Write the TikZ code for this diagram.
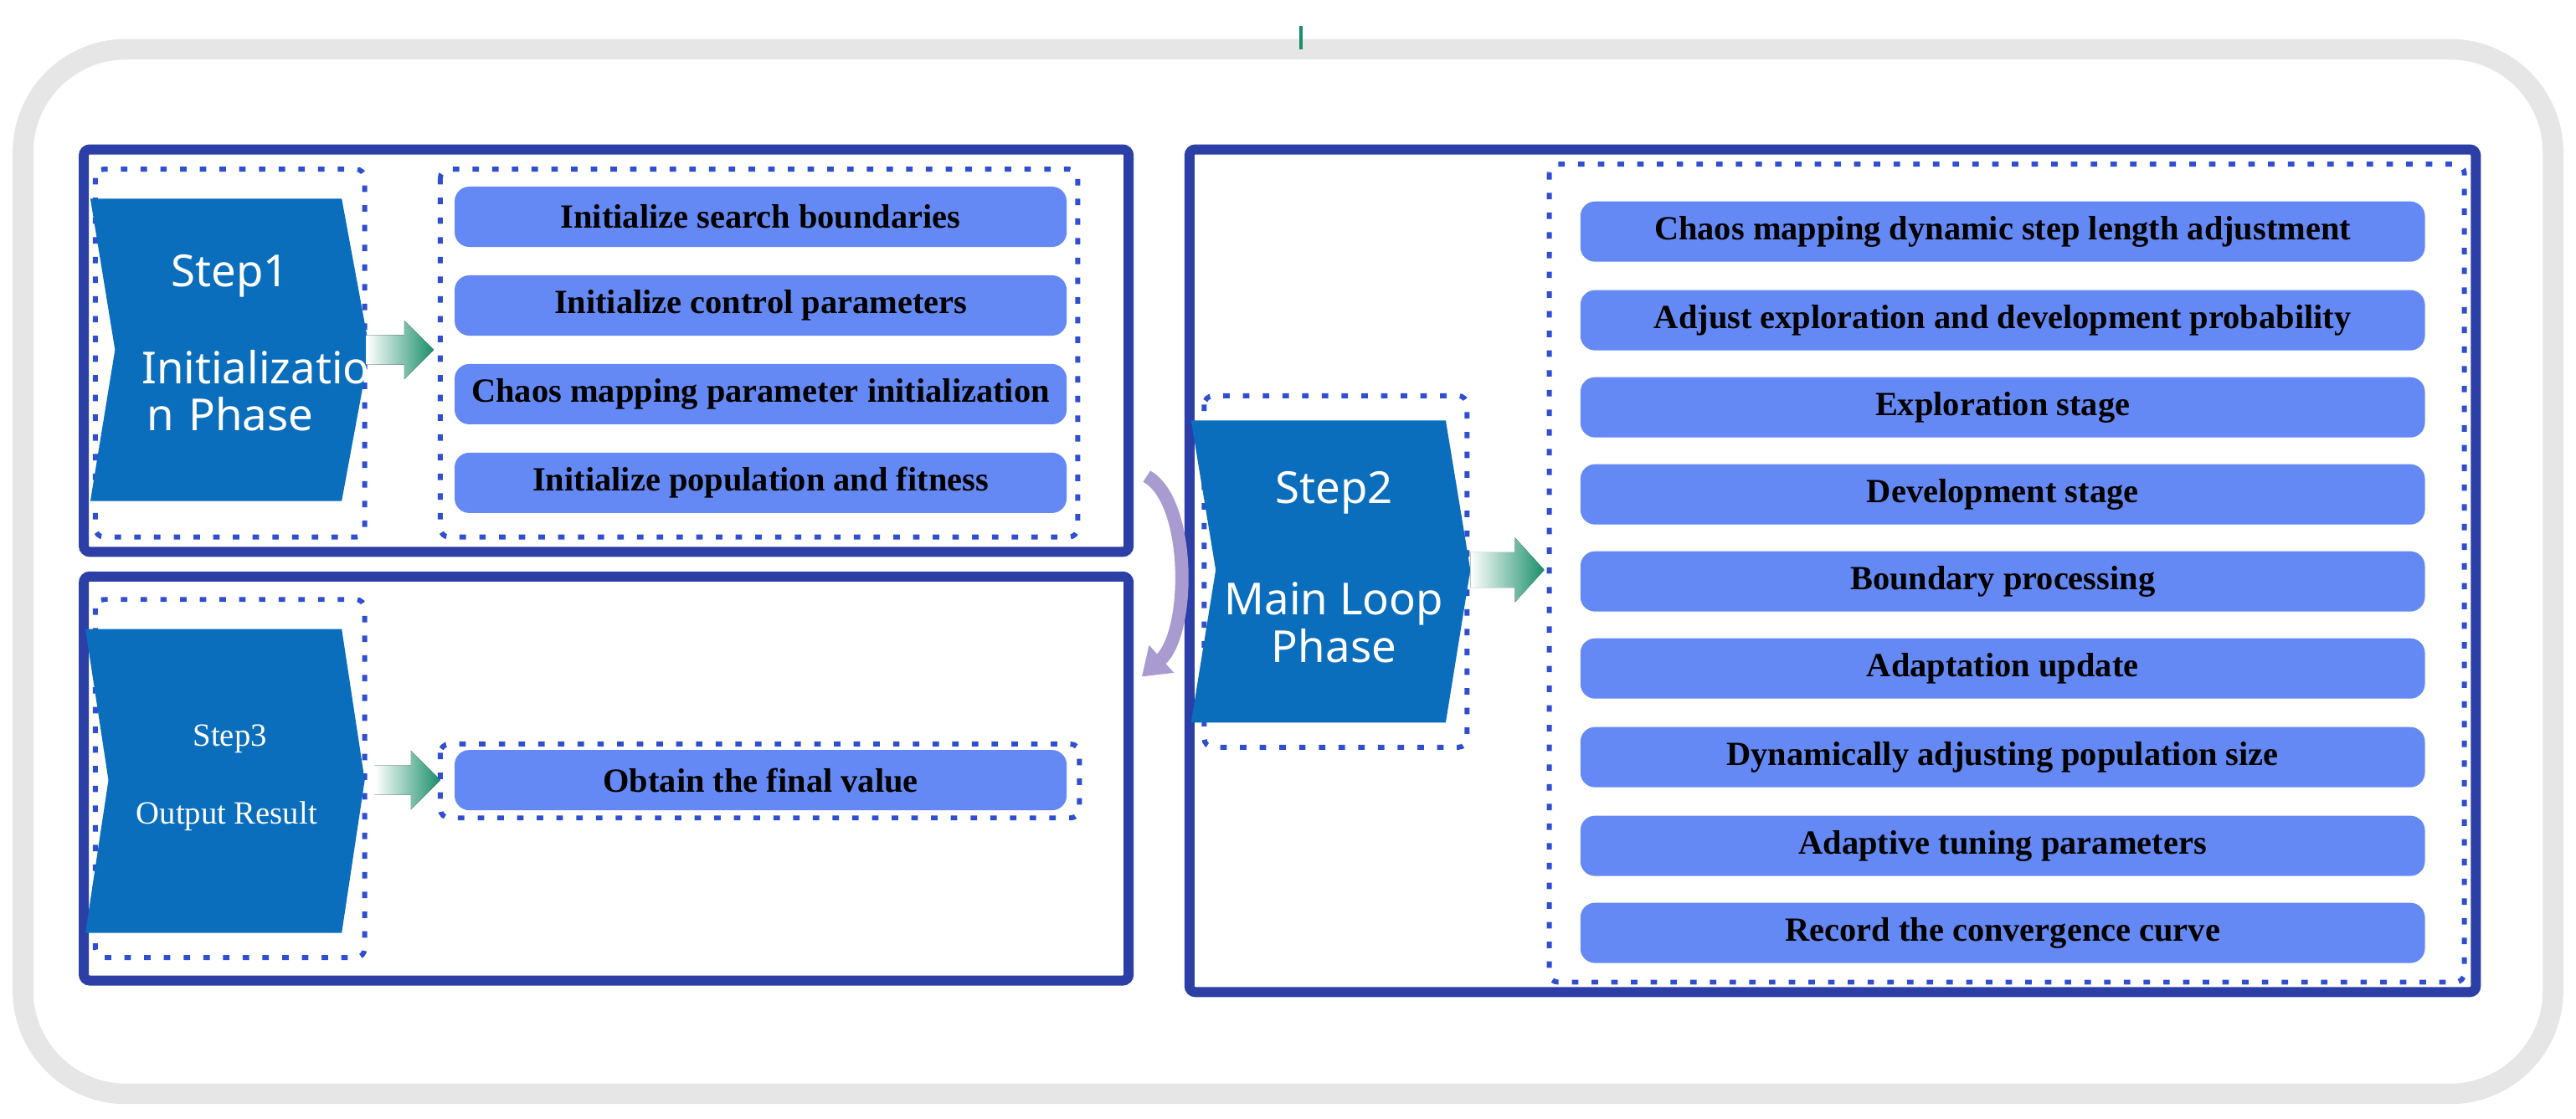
\documentclass[tikz,border=0pt]{standalone}
\usepackage{fontspec}
\setmainfont{Liberation Serif}
\newfontfamily\stepfont{Noto Sans}
\usetikzlibrary{arrows.meta}
\definecolor{frameblue}{HTML}{2B3FA6}
\definecolor{chev}{HTML}{0A6EBD}
\definecolor{item}{HTML}{6489F4}
\definecolor{dash}{HTML}{2F4FD0}
\definecolor{greyf}{HTML}{E6E6E6}
\definecolor{purp}{HTML}{A99BD0}
\definecolor{grn}{HTML}{1A8F6A}
\begin{document}
\begin{tikzpicture}[x=0.019624cm,y=-0.019624cm,
  frame/.style={draw=frameblue,line width=3.4pt,rounded corners=2pt},
  dbox/.style={draw=dash,line width=1.7pt,dash pattern=on 2.2pt off 4.5pt,rounded corners=3pt},
  chevron/.style={fill=chev,draw=none},
  itm/.style={fill=item,rounded corners=5pt,minimum height=20.5pt,inner sep=0pt,font=\bfseries\fontsize{11.5}{12}\selectfont},
  steptxt/.style={text=white,font=\stepfont\fontsize{15}{20}\selectfont,align=center},
  garrow/.style={left color=white,right color=grn,draw=none}]
\useasboundingbox (0,0) rectangle (1568,681);
% outer frame
\draw[greyf,line width=7pt,rounded corners=35pt] (14,30) rectangle (1554,666);
\coordinate (tick1) at (792,16); \coordinate (tick2) at (792,30);
\draw[grn,line width=1pt] (tick1) -- (tick2);
% step frames
\draw[frame] (51,91) rectangle (687,336);
\draw[frame] (51,351) rectangle (687,597);
\draw[frame] (724,91) rectangle (1507,604);
% Step1
\draw[dbox] (58,103) rectangle (222,327);
\fill[chevron] (55,121) -- (208,121) -- (225,213) -- (208,305) -- (55,305) -- (70,213) -- cycle;
\node[steptxt] (s1) at (140,168) {Step1};
\node[steptxt,text width=60pt] (s1b) at (140,238) {Initializatio\\[-4pt]n Phase};
\draw[dbox] (268,103) rectangle (656,327);
\node[itm,minimum width=208pt] (a1) at (463,132) {Initialize search boundaries};
\node[itm,minimum width=208pt] (a2) at (463,186) {Initialize control parameters};
\node[itm,minimum width=208pt] (a3) at (463,240) {Chaos mapping parameter initialization};
\node[itm,minimum width=208pt] (a4) at (463,294) {Initialize population and fitness};
\coordinate (g1a) at (223,213); \coordinate (g1b) at (264,213);
\fill[garrow] ([yshift=5]g1a) -- ([xshift=-10,yshift=5]g1b) -- ([xshift=-10,yshift=10]g1b) -- (g1b) -- ([xshift=-10,yshift=-10]g1b) -- ([xshift=-10,yshift=-5]g1b) -- ([yshift=-5]g1a) -- cycle;
% Step3
\draw[dbox] (58,365) rectangle (222,583);
\fill[chevron] (52,383) -- (208,383) -- (222,475) -- (208,568) -- (52,568) -- (66,475) -- cycle;
\node[text=white,font=\fontsize{11}{13}\selectfont] (s3) at (140,450) {Step3};
\node[text=white,font=\fontsize{11}{13}\selectfont] (s3b) at (138,497) {Output Result};
\coordinate (g3a) at (228,475); \coordinate (g3b) at (268,475);
\fill[garrow] ([yshift=5]g3a) -- ([xshift=-10,yshift=5]g3b) -- ([xshift=-10,yshift=10]g3b) -- (g3b) -- ([xshift=-10,yshift=-10]g3b) -- ([xshift=-10,yshift=-5]g3b) -- ([yshift=-5]g3a) -- cycle;
\draw[dbox] (268,453) rectangle (657,498);
\node[itm,minimum width=208pt] (b1) at (463,475) {Obtain the final value};
% Step2
\draw[dbox] (733,241) rectangle (893,455);
\fill[chevron] (725,256) -- (880,256) -- (895,347) -- (880,440) -- (725,440) -- (740,347) -- cycle;
\node[steptxt] (s2) at (812,300) {Step2};
\node[steptxt] (s2b) at (812,379) {Main Loop\\[-4pt]Phase};
\coordinate (g2a) at (895,347); \coordinate (g2b) at (940,347);
\fill[garrow] ([yshift=6]g2a) -- ([xshift=-10,yshift=6]g2b) -- ([xshift=-10,yshift=11]g2b) -- (g2b) -- ([xshift=-10,yshift=-11]g2b) -- ([xshift=-10,yshift=-6]g2b) -- ([yshift=-6]g2a) -- cycle;
\draw[dbox] (943,100) rectangle (1500,598);
\foreach \n/\y/\t in {c1/141/Chaos mapping dynamic step length adjustment,
 c2/195/Adjust exploration and development probability,
 c3/248/Exploration stage,
 c4/301/Development stage,
 c5/354/Boundary processing,
 c6/407/Adaptation update,
 c7/461/Dynamically adjusting population size,
 c8/515/Adaptive tuning parameters,
 c9/568/Record the convergence curve}
 \node[itm,minimum width=287pt] (\n) at (1219,\y) {\t};
% purple loop arrow
\coordinate (p1) at (698,290); \coordinate (p2) at (695,412);
\draw[purp,line width=4.5pt,-{Triangle[length=9pt,width=12pt]}] (p1) .. controls (725,305) and (725,385) .. (p2);
\end{tikzpicture}
\end{document}
